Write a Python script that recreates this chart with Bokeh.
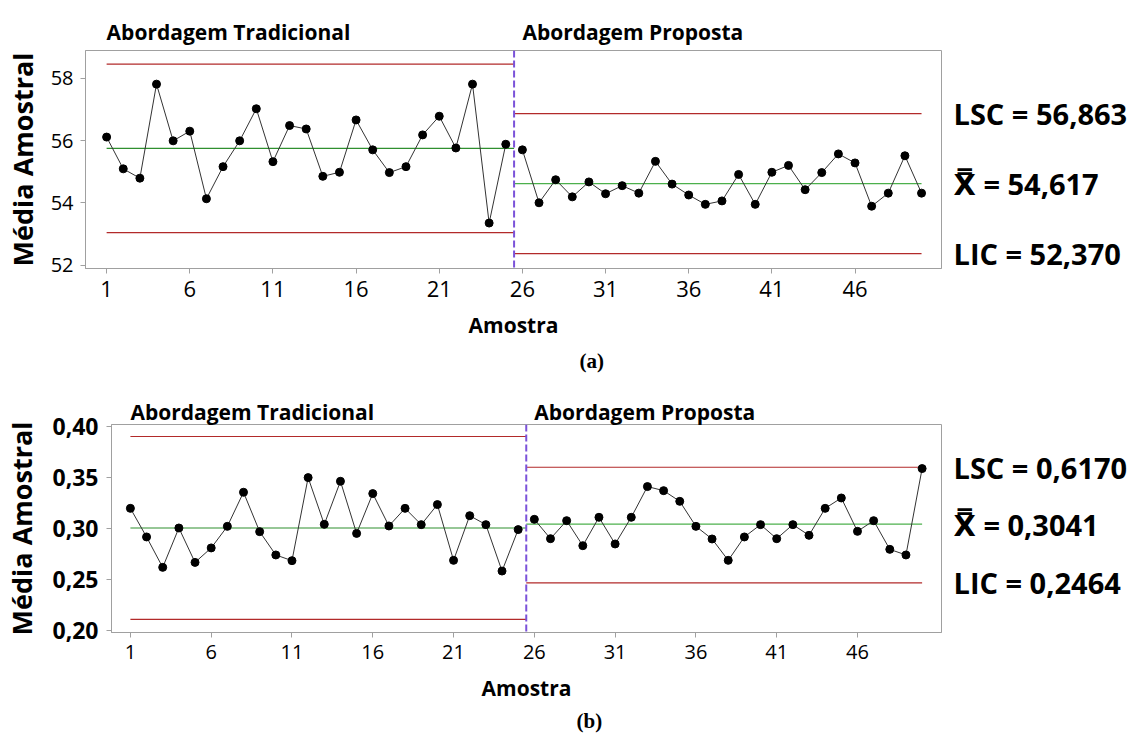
from bokeh.plotting import figure
from bokeh.models import (Span, Title, FixedTicker, Range1d, CustomJSTickFormatter,
                          LinearAxis)
from bokeh.layouts import column
from bokeh.embed import file_html
from bokeh.resources import INLINE

# ---------------- data ----------------
amostras_trad = list(range(1, 26))
amostras_prop = list(range(26, 51))

media_a_trad = [56.11, 55.09, 54.79, 57.81, 55.99, 56.30, 54.13, 55.16, 55.99, 57.02,
                55.32, 56.48, 56.37, 54.85, 54.98, 56.66, 55.70, 54.97, 55.16, 56.18,
                56.78, 55.76, 57.81, 53.35, 55.88]
media_a_prop = [55.70, 54.00, 54.74, 54.19, 54.67, 54.29, 54.55, 54.31, 55.33, 54.60,
                54.25, 53.95, 54.06, 54.91, 53.95, 54.98, 55.20, 54.42, 54.97, 55.57,
                55.28, 53.89, 54.31, 55.51, 54.31]
lsc_a = [58.45, 56.863]
lc_a = [55.745, 54.617]
lic_a = [53.04, 52.370]
textos_a = ["LSC = 56,863", "X\u033F = 54,617", "LIC = 52,370"]

media_b_trad = [0.3196, 0.2915, 0.2616, 0.3003, 0.2665, 0.2807, 0.3019, 0.3354, 0.2967, 0.2738,
                0.2682, 0.3498, 0.3039, 0.3462, 0.2950, 0.3341, 0.3023, 0.3196, 0.3036, 0.3233,
                0.2685, 0.3124, 0.3036, 0.2580, 0.2987]
media_b_prop = [0.3088, 0.2898, 0.3075, 0.2829, 0.3108, 0.2846, 0.3108, 0.3410, 0.3370, 0.3265,
                0.3019, 0.2895, 0.2685, 0.2915, 0.3036, 0.2898, 0.3036, 0.2931, 0.3196, 0.3298,
                0.2970, 0.3075, 0.2793, 0.2738, 0.3587]
lsc_b = [0.3902, 0.3600]
lc_b = [0.3003, 0.3041]
lic_b = [0.2105, 0.2464]
textos_b = ["LSC = 0,6170", "X\u033F = 0,3041", "LIC = 0,2464"]

etapas = ["Abordagem Tradicional", "Abordagem Proposta"]
primeira_amostra = [1, 26]
inicio_etapa = [1, 25.5]
fim_etapa = [25.5, 50]
divisao = 25.5
ticks_x = [1, 6, 11, 16, 21, 26, 31, 36, 41, 46]
ticks_a = [52, 54, 56, 58]
ticks_b = [0.20, 0.25, 0.30, 0.35, 0.40]

SANS = "Open Sans"
SANS_FALLBACK = "Open Sans, DejaVu Sans, sans-serif"
GRAY = "#a0a0a0"
RED = "#b22a2a"
GREEN_L = "#2f8f2f"
GREEN_R = "#4cb04c"
PURPLE = "#7b52d9"

LOOKUP = """
for (let i = 0; i < vals.length; i++) {
    if (Math.abs(tick - vals[i]) < 1e-9) { return txt[i]; }
}
return '';
"""


def painel(trad, prop, lsc, lc, lic, textos, xr, yr, ticks_y, fmt, caption, st):
    p = figure(width=1133, height=st["height"], x_range=Range1d(*xr), y_range=Range1d(*yr),
               output_backend="svg", toolbar_location=None,
               min_border_left=st["b_left"], min_border_right=192,
               min_border_top=st["b_top"], min_border_bottom=st["b_bottom"])
    p.frame_align = False
    p.title.visible = False
    p.background_fill_color = "white"
    p.border_fill_color = "white"
    p.outline_line_color = GRAY
    p.outline_line_width = 1
    p.xgrid.visible = False
    p.ygrid.visible = False

    for ax in (p.xaxis[0], p.yaxis[0]):
        ax.axis_line_color = GRAY
        ax.major_tick_line_color = GRAY
        ax.major_tick_out = 5
        ax.major_tick_in = 0
        ax.minor_tick_out = 0
        ax.minor_tick_in = 0
        ax.major_label_text_font = SANS
        ax.major_label_text_color = "black"
        ax.axis_label_text_font = SANS
        ax.axis_label_text_font_style = "bold"
        ax.axis_label_text_color = "black"

    p.xaxis.ticker = FixedTicker(ticks=ticks_x)
    p.xaxis.major_label_text_font_size = st["xtick_size"]
    p.xaxis.major_label_standoff = 7
    p.xaxis.axis_label = "Amostra"
    p.xaxis.axis_label_text_font_size = "21px"
    p.xaxis.axis_label_standoff = st["xl_standoff"]

    p.yaxis.ticker = FixedTicker(ticks=ticks_y)
    p.yaxis.formatter = CustomJSTickFormatter(code=fmt)
    p.yaxis.major_label_text_font_size = st["ytick_size"]
    p.yaxis.major_label_text_font_style = st["ytick_style"]
    p.yaxis.major_label_standoff = st["yt_standoff"]
    p.yaxis.axis_label = "Média Amostral"
    p.yaxis.axis_label_text_font_size = "27px"
    p.yaxis.axis_label_standoff = st["yl_standoff"]

    # stage titles on an axis above the frame, left-aligned at each stage's first sample
    top_ax = LinearAxis(ticker=FixedTicker(ticks=primeira_amostra),
                        formatter=CustomJSTickFormatter(
                            args=dict(vals=primeira_amostra, txt=etapas), code=LOOKUP),
                        major_label_orientation=0.0,
                        axis_line_color=None, major_tick_line_color=None,
                        minor_tick_line_color=None, major_tick_out=0, major_tick_in=0,
                        major_label_standoff=st["title_standoff"],
                        major_label_text_font=SANS, major_label_text_font_style="bold",
                        major_label_text_font_size="21px", major_label_text_color="black")
    p.add_layout(top_ax, "above")

    # limit values written on the right of the frame
    right_ax = LinearAxis(ticker=FixedTicker(ticks=[lsc[1], lc[1], lic[1]]),
                          formatter=CustomJSTickFormatter(
                              args=dict(vals=[lsc[1], lc[1], lic[1]], txt=textos),
                              code=LOOKUP),
                          axis_line_color=None, major_tick_line_color=None,
                          minor_tick_line_color=None, major_tick_out=0, major_tick_in=0,
                          major_label_standoff=12,
                          major_label_text_font=SANS_FALLBACK,
                          major_label_text_font_style="bold",
                          major_label_text_font_size="29px", major_label_text_color="black")
    p.add_layout(right_ax, "right")

    # control limits per stage
    p.segment(x0=inicio_etapa, x1=fim_etapa, y0=lsc, y1=lsc, line_color=RED, line_width=1.2)
    p.segment(x0=inicio_etapa, x1=fim_etapa, y0=lic, y1=lic, line_color=RED, line_width=1.2)
    p.segment(x0=inicio_etapa[:1], x1=fim_etapa[:1], y0=lc[:1], y1=lc[:1],
              line_color=GREEN_L, line_width=1.2)
    p.segment(x0=inicio_etapa[1:], x1=fim_etapa[1:], y0=lc[1:], y1=lc[1:],
              line_color=GREEN_R, line_width=1.2)

    # sample means
    for xs, ys in ((amostras_trad, trad), (amostras_prop, prop)):
        p.line(xs, ys, line_color="#333333", line_width=1)
        p.scatter(xs, ys, size=8, fill_color="black", line_color="black")

    p.add_layout(Span(location=divisao, dimension="height", line_color=PURPLE,
                      line_dash="7 3", line_width=2))

    p.add_layout(Title(text=caption, align="left", offset=st["cap_offset"],
                       text_font="Liberation Serif", text_font_style="bold",
                       text_font_size="21px", text_color="black",
                       standoff=st["cap_standoff"]), "below")
    return p


estilo_a = dict(height=378, b_left=85, b_top=50, b_bottom=110, xtick_size="22px",
                ytick_size="20px", ytick_style="normal", yt_standoff=7, yl_standoff=7,
                xl_standoff=11, cap_standoff=11, cap_offset=494, title_standoff=19)
estilo_b = dict(height=357, b_left=110, b_top=46, b_bottom=103, xtick_size="20px",
                ytick_size="23px", ytick_style="bold", yt_standoff=8, yl_standoff=9,
                xl_standoff=12, cap_standoff=4, cap_offset=465, title_standoff=13)

pa = painel(media_a_trad, media_a_prop, lsc_a, lc_a, lic_a, textos_a,
            (-0.27, 51.2), (51.89, 58.89), ticks_a, "return tick.toFixed(0);",
            "(a)", estilo_a)
pb = painel(media_b_trad, media_b_prop, lsc_b, lc_b, lic_b, textos_b,
            (-0.17, 51.2), (0.1976, 0.402), ticks_b,
            "return tick.toFixed(2).replace('.', ',');", "(b)", estilo_b)

layout = column(pa, pb)
open("out.html", "w").write(file_html(layout, INLINE))
